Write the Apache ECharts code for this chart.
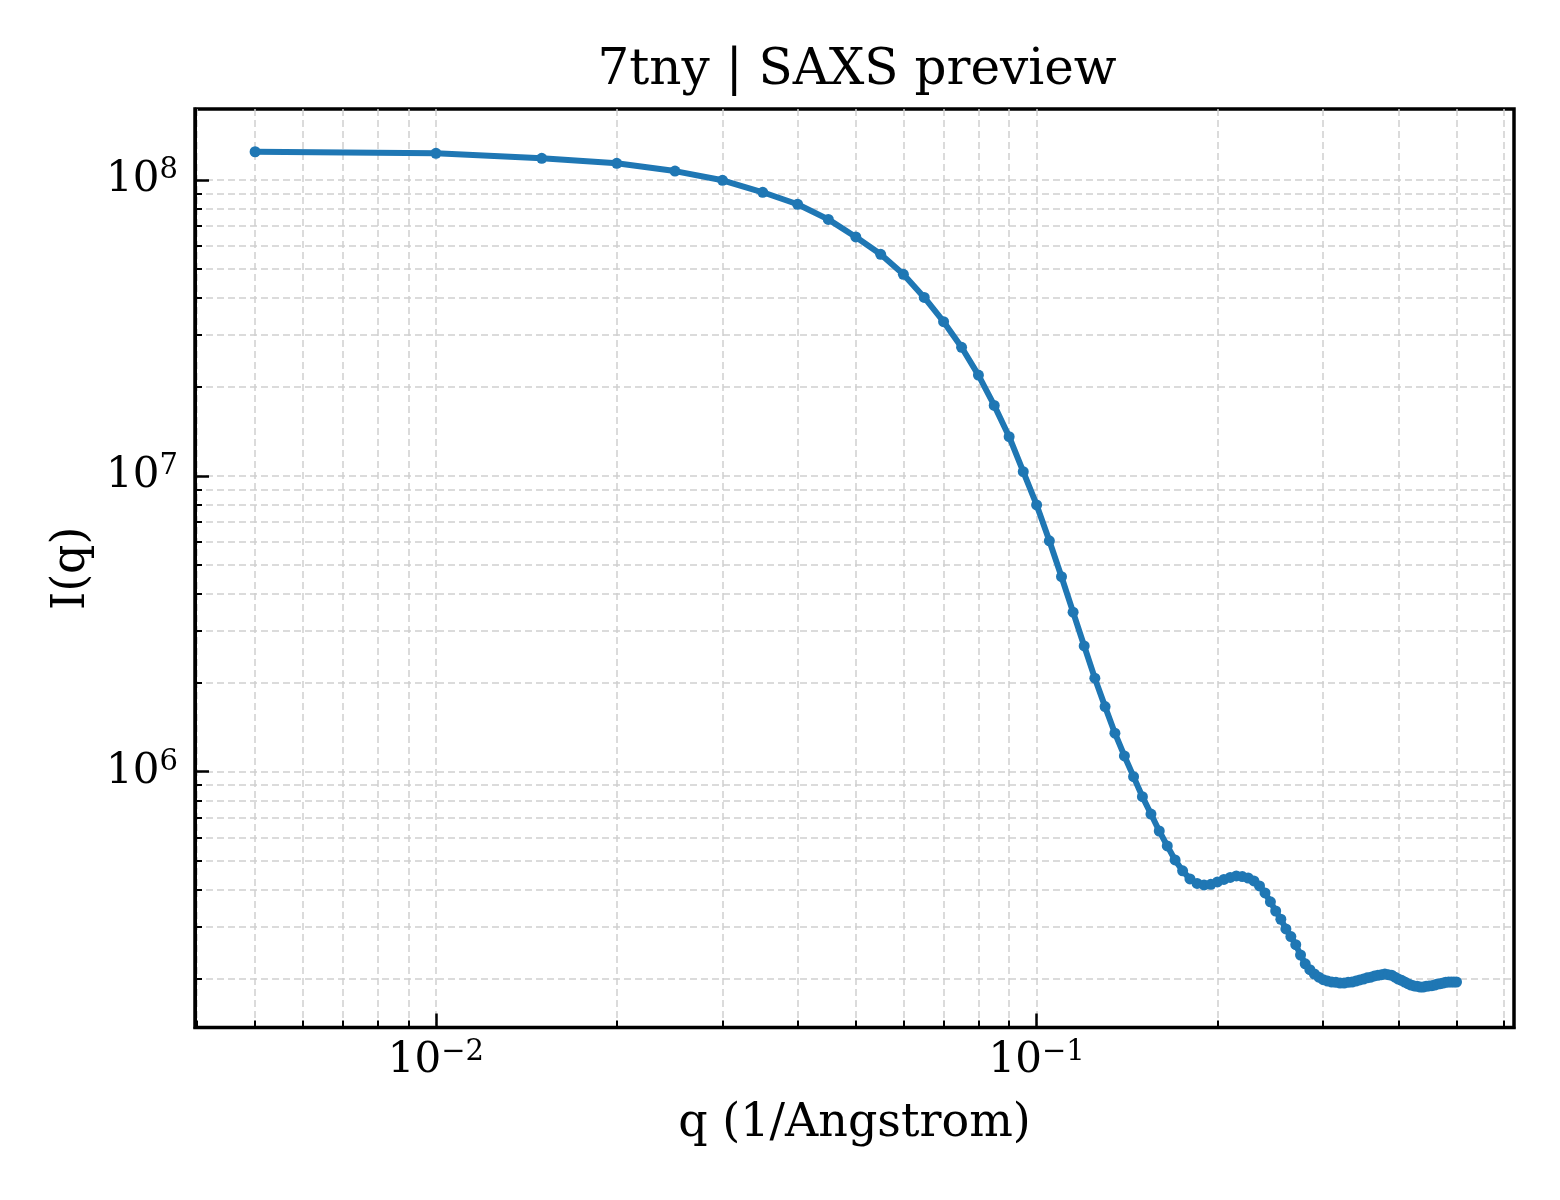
<!DOCTYPE html>
<html>
<head>
<meta charset="utf-8">
<script src="https://cdn.jsdelivr.net/npm/echarts@6/dist/echarts.min.js"></script>
<style>html,body{margin:0;padding:0;background:#fff}#c{width:1560px;height:1200px}</style>
</head>
<body>
<div id="c"></div>
<script>
const titleText = '7tny | SAXS preview';
const xName = 'q (1/Angstrom)';
const yName = 'I(q)';

const qValues = [
  0.005, 0.010, 0.015, 0.020, 0.025, 0.030, 0.035, 0.040, 0.045, 0.050,
  0.055, 0.060, 0.065, 0.070, 0.075, 0.080, 0.085, 0.090, 0.095, 0.100,
  0.105, 0.110, 0.115, 0.120, 0.125, 0.130, 0.135, 0.140, 0.145, 0.150,
  0.155, 0.160, 0.165, 0.170, 0.175, 0.180, 0.185, 0.190, 0.195, 0.200,
  0.205, 0.210, 0.215, 0.220, 0.225, 0.230, 0.235, 0.240, 0.245, 0.250,
  0.255, 0.260, 0.265, 0.270, 0.275, 0.280, 0.285, 0.290, 0.295, 0.300,
  0.305, 0.310, 0.315, 0.320, 0.325, 0.330, 0.335, 0.340, 0.345, 0.350,
  0.355, 0.360, 0.365, 0.370, 0.375, 0.380, 0.385, 0.390, 0.395, 0.400,
  0.405, 0.410, 0.415, 0.420, 0.425, 0.430, 0.435, 0.440, 0.445, 0.450,
  0.455, 0.460, 0.465, 0.470, 0.475, 0.480, 0.485, 0.490, 0.495, 0.500
];

const intensity = [
  1.246e8, 1.231e8, 1.184e8, 1.139e8, 1.072e8, 9.98e7, 9.09e7, 8.28e7, 7.36e7, 6.42e7,
  5.61e7, 4.80e7, 4.01e7, 3.32e7, 2.72e7, 2.19e7, 1.73e7, 1.356e7, 1.033e7, 7.97e6,
  6.03e6, 4.56e6, 3.46e6, 2.66e6, 2.07e6, 1.659e6, 1.349e6, 1.130e6, 9.62e5, 8.23e5,
  7.19e5, 6.30e5, 5.61e5, 5.03e5, 4.62e5, 4.34e5, 4.19e5, 4.14e5, 4.16e5, 4.24e5,
  4.32e5, 4.39e5, 4.44e5, 4.42e5, 4.37e5, 4.27e5, 4.11e5, 3.89e5, 3.63e5, 3.38e5,
  3.17e5, 2.94e5, 2.77e5, 2.60e5, 2.40e5, 2.24e5, 2.14e5, 2.07e5, 2.02e5, 1.98e5,
  1.96e5, 1.945e5, 1.94e5, 1.93e5, 1.93e5, 1.94e5, 1.945e5, 1.96e5, 1.976e5, 1.99e5,
  2.01e5, 2.02e5, 2.04e5, 2.05e5, 2.06e5, 2.07e5, 2.06e5, 2.05e5, 2.02e5, 1.99e5,
  1.97e5, 1.945e5, 1.92e5, 1.90e5, 1.886e5, 1.88e5, 1.87e5, 1.87e5, 1.88e5, 1.886e5,
  1.89e5, 1.90e5, 1.915e5, 1.92e5, 1.93e5, 1.94e5, 1.945e5, 1.945e5, 1.945e5, 1.945e5
];

const xMajorTicks = [0.01, 0.1];
const xMinorTicks = [0.004, 0.005, 0.006, 0.007, 0.008, 0.009,
                     0.02, 0.03, 0.04, 0.05, 0.06, 0.07, 0.08, 0.09,
                     0.2, 0.3, 0.4, 0.5, 0.6];
const yMajorTicks = [1e6, 1e7, 1e8];
const yMinorTicks = [2e5, 3e5, 4e5, 5e5, 6e5, 7e5, 8e5, 9e5,
                     2e6, 3e6, 4e6, 5e6, 6e6, 7e6, 8e6, 9e6,
                     2e7, 3e7, 4e7, 5e7, 6e7, 7e7, 8e7, 9e7];
const xRange = [0.003971, 0.6233];
const yRange = [1.365e5, 1.738e8];

const FONT = 'DejaVu Serif';
const gridLine = {show: true, lineStyle: {color: '#d0d0d0', width: 1.5, type: [7, 4]}};

function powLabel(v) {
  const e = Math.round(Math.log10(v));
  const s = e < 0 ? '\u2212' + (-e) : String(e);
  return '{b|10}{s|' + s + '}';
}
const labelRich = {
  b: {fontFamily: FONT, fontSize: 42, lineHeight: 48, color: '#000'},
  s: {fontFamily: FONT, fontSize: 29, lineHeight: 29, verticalAlign: 'top', color: '#000'}
};

const data = qValues.map((q, i) => [q, intensity[i]]);

const chart = echarts.init(document.getElementById('c'), null, {renderer: 'canvas'});
chart.setOption({
  animation: false,
  backgroundColor: '#fff',
  title: {
    text: titleText,
    left: 852,
    top: 41,
    textAlign: 'center',
    textStyle: {fontFamily: FONT, fontSize: 50, fontWeight: 'normal', color: '#000', lineHeight: 50}
  },
  grid: {
    left: 195, top: 109, right: 46, bottom: 172.5,
    show: true, borderColor: '#000', borderWidth: 3.5, backgroundColor: 'transparent'
  },
  xAxis: [
    {
      type: 'log', logBase: 10, min: xRange[0], max: xRange[1], position: 'bottom',
      name: xName, nameLocation: 'middle', nameGap: 74,
      nameTextStyle: {fontFamily: FONT, fontSize: 46, color: '#000'},
      axisLine: {show: true, onZero: false, lineStyle: {color: '#000', width: 3}},
      axisTick: {show: true, inside: true, length: 14, customValues: xMajorTicks,
                 lineStyle: {color: '#000', width: 2.5}},
      axisLabel: {show: true, customValues: xMajorTicks, margin: 10, formatter: powLabel, rich: labelRich},
      splitLine: gridLine,
      minorTick: {show: false}, minorSplitLine: {show: false}
    },
    {
      type: 'log', logBase: 10, min: xRange[0], max: xRange[1], position: 'bottom',
      axisLine: {show: false},
      axisTick: {show: true, inside: true, length: 7, customValues: xMinorTicks,
                 lineStyle: {color: '#000', width: 2}},
      axisLabel: {show: false},
      splitLine: gridLine
    }
  ],
  yAxis: [
    {
      type: 'log', logBase: 10, min: yRange[0], max: yRange[1], position: 'left',
      name: yName, nameLocation: 'middle', nameGap: 100,
      nameTextStyle: {fontFamily: FONT, fontSize: 46, color: '#000'},
      axisLine: {show: true, onZero: false, lineStyle: {color: '#000', width: 3}},
      axisTick: {show: true, inside: true, length: 14, customValues: yMajorTicks,
                 lineStyle: {color: '#000', width: 2.5}},
      axisLabel: {show: true, customValues: yMajorTicks, margin: 17, formatter: powLabel, rich: labelRich},
      splitLine: gridLine,
      minorTick: {show: false}, minorSplitLine: {show: false}
    },
    {
      type: 'log', logBase: 10, min: yRange[0], max: yRange[1], position: 'left',
      axisLine: {show: false},
      axisTick: {show: true, inside: true, length: 7, customValues: yMinorTicks,
                 lineStyle: {color: '#000', width: 2}},
      axisLabel: {show: false},
      splitLine: gridLine
    }
  ],
  series: [{
    type: 'line',
    xAxisIndex: 0, yAxisIndex: 0,
    data: data,
    symbol: 'circle',
    symbolSize: 11,
    showSymbol: true,
    showAllSymbol: true,
    lineStyle: {color: '#1f77b4', width: 6},
    itemStyle: {color: '#1f77b4', borderWidth: 0},
    z: 5
  }]
});
</script>
</body>
</html>
